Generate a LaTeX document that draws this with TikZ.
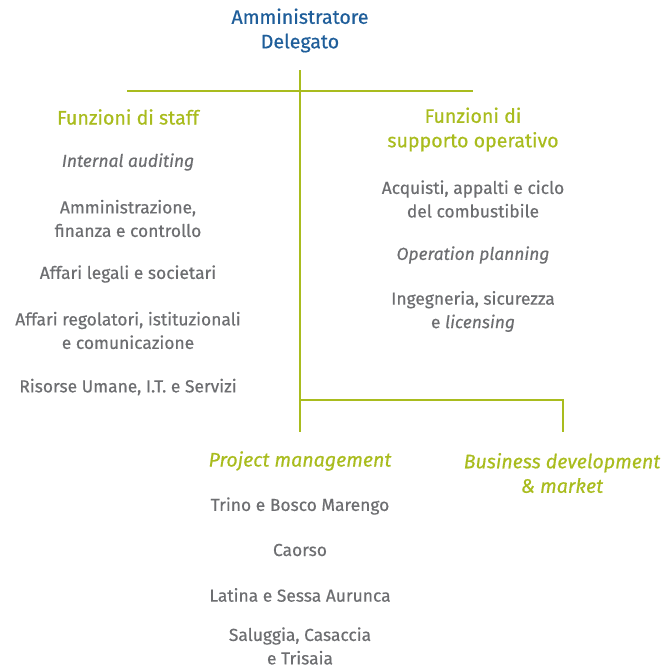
\documentclass[tikz,border=0pt]{standalone}
\usepackage{fontspec}
\setmainfont{Fira Sans}[FakeBold=0.5]
\definecolor{adblue}{HTML}{1F5E9A}
\definecolor{lime}{HTML}{A9BC1E}
\definecolor{txtgray}{HTML}{6D6E71}
\begin{document}
\begin{tikzpicture}[x=1pt,y=-1pt,
  head/.style={align=center,inner sep=0pt,font=\fontsize{19.6}{24.5}\selectfont,text=lime},
  item/.style={align=center,inner sep=0pt,font=\fontsize{17.4}{23.5}\selectfont,text=txtgray},
  conn/.style={draw=lime,line width=1.8pt}]
\useasboundingbox (0,0) rectangle (666,670);
\node[head,text=adblue] (ad) at (300,30.5) {Amministratore\\Delegato};
\node[head] (staff) at (128,117) {Funzioni di staff};
\node[item] (ia) at (128,162) {\itshape Internal auditing};
\node[item] (afc) at (128,218.5) {Amministrazione,\\finanza e controllo};
\node[item] (als) at (128,274) {Affari legali e societari};
\node[item] (ari) at (128,330.5) {Affari regolatori, istituzionali\\e comunicazione};
\node[item] (rum) at (128,387) {Risorse Umane, I.T. e Servizi};
\node[head] (supp) at (473,129.5) {Funzioni di\\supporto operativo};
\node[item] (acq) at (473,199) {Acquisti, appalti e ciclo\\del combustibile};
\node[item] (op) at (473,255) {\itshape Operation planning};
\node[item] (ing) at (473,311.5) {Ingegneria, sicurezza\\e \textit{licensing}};
\node[head] (pm) at (300,461) {\itshape Project management};
\node[head] (bd) at (562,473) {\itshape Business development\\\itshape \& market};
\node[item] (tr) at (300,506) {Trino e Bosco Marengo};
\node[item] (ca) at (300,550) {Caorso};
\node[item] (la) at (300,595) {Latina e Sessa Aurunca};
\node[item] (sa) at (300,646) {Saluggia, Casaccia\\e Trisaia};
\coordinate (top) at (300,70);
\coordinate (hl) at (127,91);
\coordinate (hr) at (473,91);
\coordinate (bot) at (300,432);
\coordinate (br1) at (300,400);
\coordinate (br2) at (563,400);
\coordinate (br3) at (563,432);
\draw[conn] (top) -- (bot);
\draw[conn] (hl) -- (hr);
\draw[conn] (br1) -- (br2) -- (br3);
\end{tikzpicture}
\end{document}
